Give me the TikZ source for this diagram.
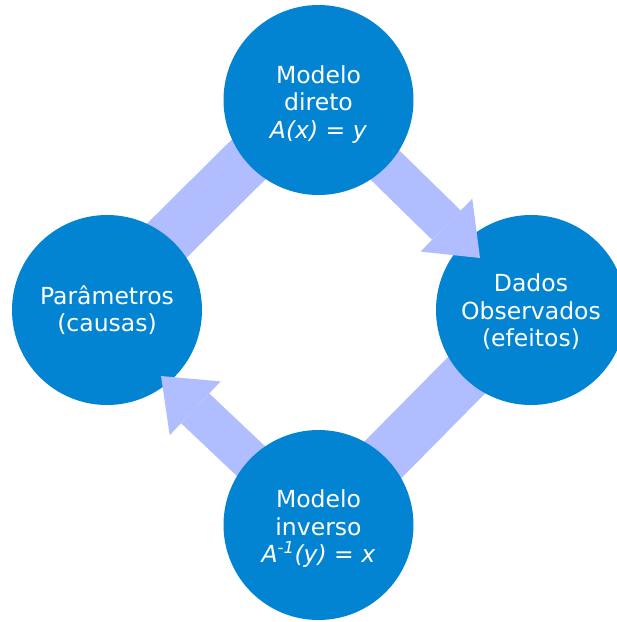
\documentclass[tikz,border=0pt]{standalone}
\usepackage{fontspec}
\setmainfont{DejaVu Sans}
\usetikzlibrary{arrows.meta, calc}
\definecolor{circleBlue}{RGB}{3,132,210}
\definecolor{bandBlue}{RGB}{176,190,255}
\newcommand{\lineLift}[1]{\rule{0pt}{#1}}
\tikzstyle{modelCircle} = [circle,
                           minimum size=190pt,
                           inner sep=0pt,
                           align=center,
                           text=white,
                           fill=circleBlue,
                           font=\fontsize{23.5}{27.5}\selectfont]
\tikzstyle{wideBand}    = [draw=bandBlue, line width=52pt]
\tikzstyle{bigArrow}    = [draw=bandBlue, line width=41pt,
                           -{Triangle[width=74pt, length=47pt, line width=0pt]}]
\pgfdeclarelayer{back}
\pgfdeclarelayer{front}
\pgfsetlayers{back,main,front}

\begin{document}
\begin{tikzpicture}[x=1pt, y=-1pt]
\useasboundingbox (0,0) rectangle (617,622);

\begin{pgfonlayer}{front}
\node [modelCircle] (Direct) at (318.5,100) {
    \lineLift{26pt}Modelo \\ direto \\ \textit{A(x) = y}
    };
\node [modelCircle] (Inverse) at ([shift={(0,425)}] Direct) {
    \lineLift{25pt}Modelo \\ inverso \\ \textit{A\textsuperscript{-1}(y) = x}
    };
\end{pgfonlayer}

\node [modelCircle] (Params) at ([shift={(-211.5,210)}] Direct) {
    Parâmetros \\ (causas)
    };
\node [modelCircle] (Data)   at ([shift={(212.5,210)}] Direct) {
    \lineLift{22pt}Dados \\ Observados \\ (efeitos)
    };

\coordinate (dataTip)   at (480,258);
\coordinate (paramsTip) at (161,376);

\begin{pgfonlayer}{back}
\draw [wideBand] ([shift={(-5,-5)}] Params.center) -- ([shift={(-5,-5)}] Direct.center);
\draw [wideBand] (Data.center) -- (Inverse.center);
\end{pgfonlayer}

\draw [bigArrow] (Direct.center) -- (dataTip);
\draw [bigArrow] (Inverse.center) -- (paramsTip);

\end{tikzpicture}
\end{document}
